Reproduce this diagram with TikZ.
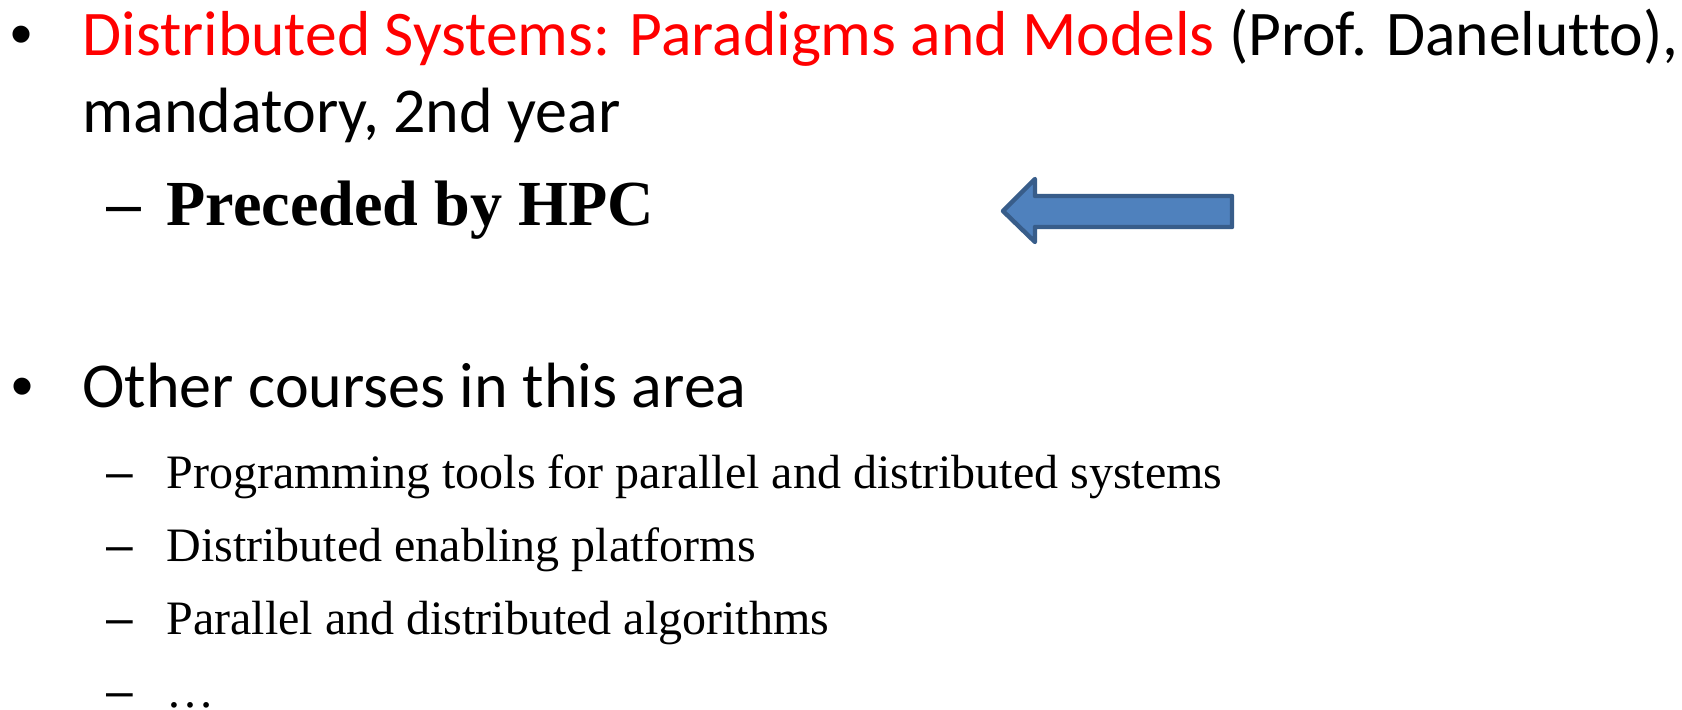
\documentclass[tikz,border=0pt]{standalone}
\usepackage{fontspec}
\setmainfont{Liberation Serif}
\newfontfamily\calibrifont[Ligatures=NoCommon]{Carlito}
\newfontfamily\bulletfont{Liberation Sans}
\usepackage{xcolor}
\usepackage{tikz}
\usetikzlibrary{positioning}

\definecolor{slidered}{HTML}{FF0000}
\definecolor{arrowfill}{HTML}{4F81BD}
\definecolor{arrowline}{HTML}{385D8A}

\begin{document}
\begin{tikzpicture}[
    x=0.45pt, y=-0.45pt,
    bul/.style      ={anchor=base west, inner sep=0pt,
                      font=\fontsize{28.3pt}{34pt}\bulletfont},
    subbul/.style   ={anchor=base west, inner sep=0pt,
                      font=\fontsize{21.6pt}{26pt}\bulletfont},
    lvlone/.style   ={anchor=base west, inner sep=0pt,
                      font=\fontsize{28.8pt}{34pt}\calibrifont},
    hpc/.style      ={anchor=base west, inner sep=0pt,
                      font=\fontsize{28.9pt}{34pt}\selectfont\bfseries},
    lvltwo/.style   ={anchor=base west, inner sep=0pt,
                      font=\fontsize{21.6pt}{26pt}\selectfont},
    blockarrow/.style={fill=arrowfill, draw=arrowline, line width=2pt,
                      line join=round}
]
\useasboundingbox (0,0) rectangle (1682,709);

% --- First bullet: the course, wrapped onto two lines. ---
\node[bul]    (bulone)    at (10, 55)  {•};
\node[lvlone, font=\fontsize{28.6pt}{34pt}\calibrifont] (distsys) at (82, 55)
  {{\color{slidered}Distributed Systems: Paradigms and Models} (Prof. Danelutto),};
\node[lvlone] (mandatory) at (82,132)  {mandatory, 2nd year};

% --- Sub-item in bold Times, with the block arrow pointing at it. ---
\node[bul]    (hpcdash)   at (106,225) {–};
\node[hpc]    (preceded)  at (166,225) {Preceded by HPC};

\draw[blockarrow] (1003,211) -- (1035,179) -- (1035,196) -- (1232,196)
                  -- (1232,227) -- (1035,227) -- (1035,242) -- cycle;

% --- Second bullet and its list of courses. ---
\node[bul]    (bultwo)    at (11,407)  {•};
\node[lvlone] (other)     at (82,407)  {Other courses in this area};

\node[subbul] (dashone)   at (106,488) {–};
\node[lvltwo] (progtools) at (166,488) {Programming tools for parallel and distributed systems};
\node[subbul] (dashtwo)   at (106,561) {–};
\node[lvltwo] (enabling)  at (166,561) {Distributed enabling platforms};
\node[subbul] (dashthree) at (106,634) {–};
\node[lvltwo] (algos)     at (166,634) {Parallel and distributed algorithms};
\node[subbul] (dashfour)  at (106,707) {–};
\node[lvltwo] (more)      at (166,707) {…};

\end{tikzpicture}
\end{document}
